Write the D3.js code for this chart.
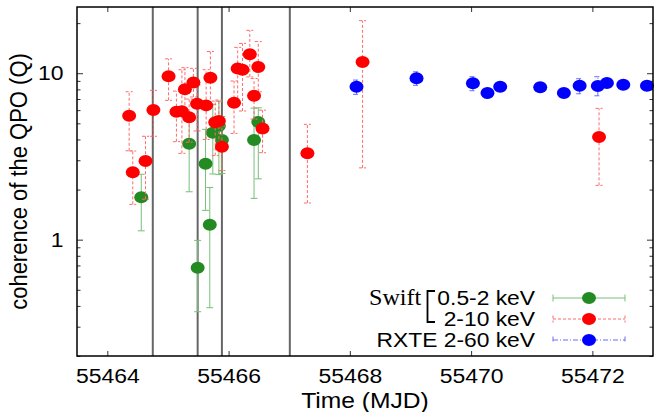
<!DOCTYPE html>
<html>
<head>
<meta charset="utf-8">
<script src="https://cdn.jsdelivr.net/npm/d3@7"></script>
<style>
  html, body { margin: 0; padding: 0; background: #fff; }
  svg { display: block; }
</style>
</head>
<body>
<svg id="chart" width="662" height="412"></svg>
<script>
// Swift 0.5-2 keV: time (MJD), Q, lower, upper
const softTime = [55464.56, 55465.35, 55465.62, 55465.49, 55465.69, 55465.74, 55465.84, 55465.89, 55466.42, 55466.49];
const softQ    = [1.80, 3.77, 2.86, 0.678, 1.23, 4.39, 4.82, 3.97, 3.97, 5.09];
const softLo   = [1.13, 1.94, 1.50, 0.369, 0.39, 2.48, 2.46, 2.50, 1.77, 2.32];
const softHi   = [2.47, 5.50, 4.60, 0.99, 2.06, 6.50, 6.80, 5.50, 6.17, 6.20];

// Swift 2-10 keV
const hardTime = [55464.36, 55464.42, 55464.63, 55464.76, 55465.01, 55465.14, 55465.23, 55465.28, 55465.35,
                  55465.42, 55465.48, 55465.63, 55465.70, 55465.78, 55465.84, 55465.89, 55466.09, 55466.15,
                  55466.23, 55466.35, 55466.42, 55466.49, 55466.56, 55467.30, 55468.21, 55472.11];
const hardQ    = [5.55, 2.54, 2.97, 6.01, 9.58, 5.87, 5.92, 8.01, 5.43,
                  8.81, 6.56, 6.41, 9.39, 5.07, 5.16, 3.62, 6.65, 10.67,
                  10.48, 13.0, 7.32, 10.9, 4.65, 3.30, 11.7, 4.14];
const hardLo   = [3.42, 1.63, 1.75, 4.18, 6.87, 3.88, 3.30, 6.00, 3.85,
                  7.20, 4.50, 4.00, 6.50, 3.20, 3.50, 2.60, 4.35, 6.59,
                  5.93, 9.50, 5.30, 7.74, 3.33, 1.66, 2.70, 2.12];
const hardHi   = [7.74, 3.41, 4.18, 7.89, 12.2, 7.81, 10.5, 10.8, 7.00,
                  10.7, 8.50, 10.5, 13.5, 6.80, 6.90, 4.80, 8.98, 14.3,
                  15.1, 18.1, 9.30, 15.5, 6.00, 4.93, 20.7, 6.15];

// RXTE 2-60 keV
const xteTime = [55468.11, 55469.10, 55470.03, 55470.27, 55470.48, 55471.14, 55471.53, 55471.79, 55472.09, 55472.24, 55472.51, 55472.90];
const xteQ    = [8.30, 9.32, 8.70, 7.60, 8.30, 8.23, 7.60, 8.41, 8.38, 8.73, 8.53, 8.41];
const xteLo   = [7.47, 8.46, 7.85, 7.10, 7.80, 7.80, 7.20, 7.53, 7.32, 8.30, 8.10, 8.00];
const xteHi   = [9.10, 10.2, 9.53, 8.10, 8.80, 8.70, 8.00, 9.27, 9.53, 9.20, 9.00, 8.90];

// Vertical marker lines (MJD)
const markerTimes = [55464.75, 55465.49, 55465.89, 55467.01];

// Axis ticks
const xTicks = [55464, 55466, 55468, 55470, 55472];
const yMajor = [1, 10];
const yMinor = [0.2, 0.3, 0.4, 0.5, 0.6, 0.7, 0.8, 0.9, 2, 3, 4, 5, 6, 7, 8, 9, 20];

const legendRows = ["0.5-2 keV", "2-10 keV", "RXTE 2-60 keV"];

const zip = (t, q, lo, hi) => t.map((d, i) => ({ t: d, q: q[i], lo: lo[i], hi: hi[i] }));
const series = [
  { key: "soft", data: zip(softTime, softQ, softLo, softHi), fill: "#238b22", bar: "#78bf78", dash: null },
  { key: "hard", data: zip(hardTime, hardQ, hardLo, hardHi), fill: "#ff0000", bar: "#ff6a6a", dash: "3,2" },
  { key: "xte",  data: zip(xteTime, xteQ, xteLo, xteHi),     fill: "#0000ff", bar: "#6b6bff", dash: "5,2,1,2" }
];

const L = 77, R = 653, T = 7, B = 356;
const SX = 1.12; // horizontal text stretch
const font = "'Liberation Sans', Arial, sans-serif";

const svg = d3.select("#chart");
const x = d3.scaleLinear().domain([55463.5, 55473]).range([L, R]);
const y = d3.scaleLog().domain([0.2, 25]).range([B, T]);

// marker lines
svg.append("g").selectAll("line").data(markerTimes).join("line")
  .attr("x1", d => x(d)).attr("x2", d => x(d))
  .attr("y1", T).attr("y2", B)
  .attr("stroke", "#666").attr("stroke-width", 2);

// axes
function styleAxis(g) {
  g.select(".domain").remove();
  g.selectAll(".tick line").attr("stroke", "#333").attr("stroke-width", 1);
  g.selectAll(".tick text")
    .attr("font-family", font).attr("font-size", 20.5).attr("fill", "#000")
    .attr("transform", `scale(${SX},1)`);
}
svg.append("g").attr("transform", `translate(0,${B})`)
  .call(d3.axisBottom(x).tickValues(xTicks).tickFormat(d3.format("d")).tickSize(-5).tickPadding(12))
  .call(styleAxis);
svg.append("g").attr("transform", `translate(0,${T})`)
  .call(d3.axisTop(x).tickValues(xTicks).tickFormat("").tickSize(-5))
  .call(styleAxis);
svg.append("g").attr("transform", `translate(${L},0)`)
  .call(d3.axisLeft(y).tickValues(yMajor).tickFormat(d3.format("d")).tickSize(-6).tickPadding(12))
  .call(styleAxis);
svg.append("g").attr("transform", `translate(${L},0)`)
  .call(d3.axisLeft(y).tickValues(yMinor).tickFormat("").tickSize(-3.5))
  .call(styleAxis);
svg.append("g").attr("transform", `translate(${R},0)`)
  .call(d3.axisRight(y).tickValues(yMajor).tickFormat("").tickSize(-6))
  .call(styleAxis);
svg.append("g").attr("transform", `translate(${R},0)`)
  .call(d3.axisRight(y).tickValues(yMinor).tickFormat("").tickSize(-3.5))
  .call(styleAxis);

// error bars and points, one series at a time
const cap = 3.5;
series.forEach(s => {
  const g = svg.append("g").attr("class", s.key);
  const eb = g.append("g").attr("stroke", s.bar).attr("stroke-width", 1).attr("fill", "none")
    .attr("stroke-dasharray", s.dash);
  eb.selectAll("path").data(s.data).join("path")
    .attr("d", d => {
      const cx = x(d.t), y0 = y(d.lo), y1 = y(d.hi);
      return `M${cx},${y0}V${y1}M${cx - cap},${y1}H${cx + cap}M${cx - cap},${y0}H${cx + cap}`;
    });
  g.append("g").selectAll("ellipse").data(s.data).join("ellipse")
    .attr("cx", d => x(d.t)).attr("cy", d => y(d.q))
    .attr("rx", 7).attr("ry", 6).attr("fill", s.fill);
});

// frame
svg.append("rect").attr("x", L).attr("y", T).attr("width", R - L).attr("height", B - T)
  .attr("fill", "none").attr("stroke", "#000").attr("stroke-width", 1.5);

// axis titles
svg.append("text")
  .attr("transform", `translate(${(L + R) / 2},408) scale(${SX},1)`)
  .attr("text-anchor", "middle").attr("font-family", font).attr("font-size", 22)
  .text("Time (MJD)");
svg.append("text")
  .attr("transform", `translate(27,${(T + B) / 2}) scale(${SX},1) rotate(-90)`)
  .attr("text-anchor", "middle").attr("font-family", font).attr("font-size", 22)
  .text("coherence of the QPO (Q)");

// legend
const lg = svg.append("g");
const rowY = [298, 319, 340];
const LSX = 1.17;
lg.selectAll("text.lab").data(legendRows).join("text").attr("class", "lab")
  .attr("transform", (d, i) => `translate(535,${rowY[i] + 7}) scale(${LSX},1)`)
  .attr("text-anchor", "end").attr("font-family", font).attr("font-size", 19.5)
  .text(d => d);
lg.append("text")
  .attr("transform", `translate(369,305) scale(1.05,1)`)
  .attr("font-family", "'Liberation Serif', 'DejaVu Serif', serif").attr("font-size", 23)
  .text("Swift");
lg.append("path").attr("d", "M435,291H427.5V322H435")
  .attr("fill", "none").attr("stroke", "#000").attr("stroke-width", 1.8);
series.forEach((s, i) => {
  const yy = rowY[i];
  lg.append("path")
    .attr("d", `M553,${yy}H625M553,${yy - cap}V${yy + cap}M625,${yy - cap}V${yy + cap}`)
    .attr("stroke", s.bar).attr("stroke-width", 1).attr("fill", "none")
    .attr("stroke-dasharray", s.dash);
  lg.append("ellipse").attr("cx", 589).attr("cy", yy).attr("rx", 7).attr("ry", 6).attr("fill", s.fill);
});
</script>
</body>
</html>
